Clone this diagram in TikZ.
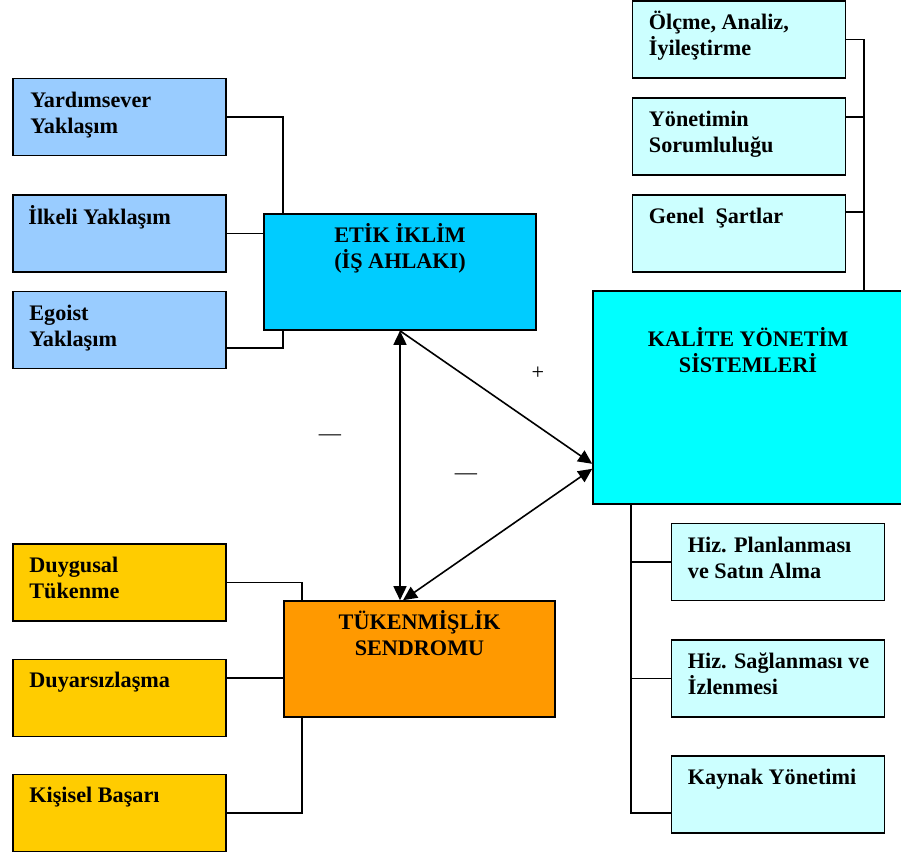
\documentclass[tikz,border=0pt]{standalone}
\usepackage{fontspec}
\setmainfont{Liberation Serif}
\usetikzlibrary{arrows.meta}
\definecolor{lblue}{HTML}{99CCFF}
\definecolor{sky}{HTML}{00CCFF}
\definecolor{cyanbox}{HTML}{00FFFF}
\definecolor{pale}{HTML}{CCFFFF}
\definecolor{gold}{HTML}{FFCC00}
\definecolor{orng}{HTML}{FF9900}
\newcommand\tleft[1]{\begin{tabular}[t]{@{}l@{}}#1\end{tabular}}
\newcommand\tcent[1]{\begin{tabular}[t]{@{}c@{}}#1\end{tabular}}
\begin{document}
\begin{tikzpicture}[x=1pt,y=-1pt,
  box/.style={draw=black,line width=1.6pt,inner sep=0pt,minimum width=213pt,minimum height=77pt},
  txt/.style={inner sep=0pt,font=\fontsize{22.2}{25.8}\selectfont\bfseries},
  lbl/.style={inner sep=0pt,font=\fontsize{22.2}{25.8}\selectfont},
  wire/.style={line width=1.6pt},
  arr/.style={line width=1.6pt,{Triangle[length=14pt,width=13pt]}-{Triangle[length=14pt,width=13pt]}},
  arr1/.style={line width=1.6pt,-{Triangle[length=14pt,width=13pt]}}]
\useasboundingbox (0,0) rectangle (901,856);
% left blue boxes
\node[box,fill=lblue] (b1) at (119.5,117) {};
\node[box,fill=lblue] (b2) at (119.5,233.5) {};
\node[box,fill=lblue] (b3) at (119.5,330) {};
% etik
\node[box,fill=sky,minimum width=272pt,minimum height=116pt] (etik) at (400,272) {};
% right top boxes
\node[box,fill=pale] (r1) at (739,39.5) {};
\node[box,fill=pale] (r2) at (739,136.5) {};
\node[box,fill=pale] (r3) at (739,233.5) {};
% kalite
\node[box,fill=cyanbox,minimum width=310pt,minimum height=213pt] (kal) at (748,397.5) {};
% right bottom boxes
\node[box,fill=pale] (s1) at (778,562) {};
\node[box,fill=pale] (s2) at (778,678.5) {};
\node[box,fill=pale] (s3) at (778,794.5) {};
% yellow boxes
\node[box,fill=gold] (y1) at (119.5,582.5) {};
\node[box,fill=gold] (y2) at (119.5,698) {};
\node[box,fill=gold] (y3) at (119.5,813) {};
% tukenmislik
\node[box,fill=orng,minimum width=271pt,minimum height=116pt] (tuk) at (419.5,659) {};

% texts
\node[txt,anchor=base west] (tb1) at ([xshift=18pt,yshift=-30pt]b1.north west) {\tleft{Yardımsever\\Yaklaşım}};
\node[txt,anchor=base west] (tb2) at ([xshift=16pt,yshift=-30pt]b2.north west) {\tleft{İlkeli Yaklaşım}};
\node[txt,anchor=base west] (tb3) at ([xshift=17pt,yshift=-30pt]b3.north west) {\tleft{Egoist\\Yaklaşım}};
\node[txt,anchor=base] (tetik) at ([yshift=-29pt]etik.north) {\tcent{ETİK İKLİM\\(İŞ AHLAKI)}};
\node[txt,anchor=base west] (tr1) at ([xshift=17pt,yshift=-29pt]r1.north west) {\tleft{Ölçme, Analiz,\\İyileştirme}};
\node[txt,anchor=base west] (tr2) at ([xshift=17pt,yshift=-29pt]r2.north west) {\tleft{Yönetimin\\Sorumluluğu}};
\node[txt,anchor=base west] (tr3) at ([xshift=17pt,yshift=-29pt]r3.north west) {\tleft{Genel\ \ Şartlar}};
\node[txt,anchor=base] (tkal) at ([yshift=-56pt]kal.north) {\tcent{KALİTE YÖNETİM\\SİSTEMLERİ}};
\node[txt,anchor=base west] (ts1) at ([xshift=17pt,yshift=-30pt]s1.north west) {\tleft{Hiz. Planlanması\\ve Satın Alma}};
\node[txt,anchor=base west] (ts2) at ([xshift=17pt,yshift=-29pt]s2.north west) {\tleft{Hiz. Sağlanması ve\\İzlenmesi}};
\node[txt,anchor=base west] (ts3) at ([xshift=17pt,yshift=-29pt]s3.north west) {\tleft{Kaynak Yönetimi}};
\node[txt,anchor=base west] (ty1) at ([xshift=17pt,yshift=-29pt]y1.north west) {\tleft{Duygusal\\Tükenme}};
\node[txt,anchor=base west] (ty2) at ([xshift=17pt,yshift=-29pt]y2.north west) {\tleft{Duyarsızlaşma}};
\node[txt,anchor=base west] (ty3) at ([xshift=17pt,yshift=-29pt]y3.north west) {\tleft{Kişisel Başarı}};
\node[txt,anchor=base] (ttuk) at ([yshift=-29pt]tuk.north) {\tcent{TÜKENMİŞLİK\\SENDROMU}};

% tree connectors
\draw[wire] (b1.east) -| ([xshift=20pt]etik.north west);
\draw[wire] (b2.east) -- (b2.east -| etik.west);
\draw[wire] ([yshift=-18pt]b3.east) -| ([xshift=20pt]etik.south west);

\coordinate (rbus) at ([xshift=272pt]kal.north west);
\draw[wire] (r1.east) -| (rbus);
\draw[wire] ([yshift=19.5pt]r2.east) -- ([yshift=19.5pt]r2.east -| rbus);
\draw[wire] ([yshift=21.5pt]r3.east) -- ([yshift=21.5pt]r3.east -| rbus);

\coordinate (sbus) at ([xshift=39pt]kal.south west);
\draw[wire] (sbus) |- ([yshift=-18.5pt]s3.west);
\draw[wire] (s1.west) -- (s1.west -| sbus);
\draw[wire] (s2.west) -- (s2.west -| sbus);

\draw[wire] (y1.east) -| ([xshift=19pt]tuk.north west);
\draw[wire] ([yshift=20pt]y2.east) -- ([yshift=20pt]y2.east -| tuk.west);
\draw[wire] (y3.east) -| ([xshift=19pt]tuk.south west);

% arrows
\coordinate (ka) at ([yshift=41pt]kal.south west);
\coordinate (kb) at ([yshift=36pt]kal.south west);
\draw[arr] (etik.south) -- (etik.south |- tuk.north);
\draw[arr1] (etik.south) -- (ka);
\draw[arr] (kb) -- ([xshift=-16.5pt]tuk.north);

% labels
\node[lbl] (plus) at (538,373) {+};
\node[lbl] (m1) at (330,438) {—};
\node[lbl] (m2) at (466,477) {—};
\end{tikzpicture}
\end{document}
